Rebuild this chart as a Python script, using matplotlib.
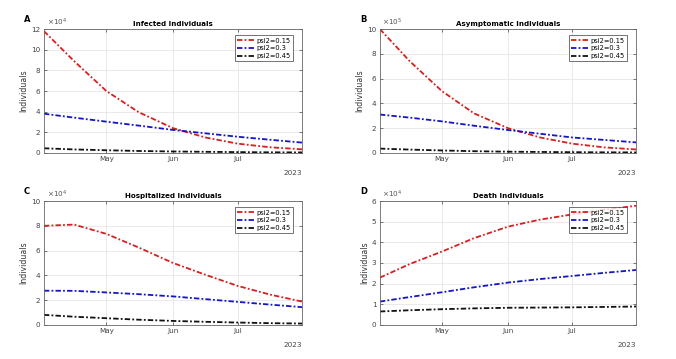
import datetime as dt
import matplotlib
matplotlib.use("Agg")
import matplotlib.pyplot as plt
import matplotlib.dates as mdates
from matplotlib.ticker import MultipleLocator

# sample dates (semi-monthly), 2023
dates = [dt.date(2023, 4, 2), dt.date(2023, 4, 16), dt.date(2023, 5, 1),
         dt.date(2023, 5, 16), dt.date(2023, 6, 1), dt.date(2023, 6, 16),
         dt.date(2023, 7, 1), dt.date(2023, 7, 16), dt.date(2023, 7, 31)]
labels = ["psi2=0.15", "psi2=0.3", "psi2=0.45"]

# Infected (x1e4)
inf_015 = [11.8, 8.9, 6.0, 3.95, 2.4, 1.5, 0.9, 0.55, 0.35]
inf_03 = [3.8, 3.42, 3.03, 2.65, 2.23, 1.9, 1.57, 1.28, 1.0]
inf_045 = [0.45, 0.34, 0.26, 0.19, 0.14, 0.11, 0.08, 0.06, 0.05]
# Asymptomatic (x1e5)
asy_015 = [10.0, 7.4, 5.0, 3.2, 2.0, 1.25, 0.75, 0.45, 0.28]
asy_03 = [3.1, 2.85, 2.55, 2.2, 1.85, 1.55, 1.25, 1.05, 0.85]
asy_045 = [0.35, 0.27, 0.2, 0.14, 0.1, 0.08, 0.06, 0.05, 0.04]
# Hospitalized (x1e4)
hos_015 = [8.0, 8.1, 7.35, 6.25, 5.0, 4.05, 3.15, 2.45, 1.88]
hos_03 = [2.76, 2.75, 2.62, 2.48, 2.3, 2.08, 1.86, 1.64, 1.43]
hos_045 = [0.81, 0.66, 0.54, 0.42, 0.32, 0.25, 0.19, 0.14, 0.11]
# Death (x1e4)
dea_015 = [2.29, 2.95, 3.55, 4.2, 4.76, 5.1, 5.35, 5.58, 5.77]
dea_03 = [1.13, 1.35, 1.58, 1.82, 2.05, 2.22, 2.37, 2.52, 2.66]
dea_045 = [0.65, 0.71, 0.76, 0.8, 0.83, 0.84, 0.85, 0.87, 0.89]

panels = [
    ("A", "Infected Individuals", 4, 12, 2, [inf_015, inf_03, inf_045]),
    ("B", "Asymptomatic Individuals", 5, 10, 2, [asy_015, asy_03, asy_045]),
    ("C", "Hospitalized Individuals", 4, 10, 2, [hos_015, hos_03, hos_045]),
    ("D", "Death Individuals", 4, 6, 1, [dea_015, dea_03, dea_045]),
]
colors = ["#d42020", "#1515c8", "#111111"]
fs = 5.2

fig = plt.figure(figsize=(6.76, 3.59), dpi=100)
positions = [
    [0.065, 0.574, 0.382, 0.345],
    [0.562, 0.574, 0.379, 0.345],
    [0.065, 0.095, 0.382, 0.345],
    [0.562, 0.095, 0.379, 0.345],
]

for pos, (letter, title, expo, ymax, ystep, series) in zip(positions, panels):
    ax = fig.add_axes(pos)
    for vals, c, lab in zip(series, colors, labels):
        ax.plot(dates, vals, color=c, lw=1.3,
                ls=(0, (3, 1.2, 1, 1.2)), label=lab)
    ax.set_xlim(dates[0], dates[-1])
    ax.set_ylim(0, ymax)
    ax.yaxis.set_major_locator(MultipleLocator(ystep))
    ax.xaxis.set_major_locator(mdates.MonthLocator(bymonth=[5, 6, 7]))
    ax.xaxis.set_major_formatter(mdates.DateFormatter("%b"))
    ax.tick_params(direction="in", labelsize=fs, labelcolor="#444444",
                   length=2.5, width=0.5, color="#444444", top=True, right=True,
                   pad=2.5)
    ax.grid(True, color="#e6e6e6", lw=0.6)
    for s in ax.spines.values():
        s.set_color("#666666")
        s.set_linewidth(0.6)
    ax.set_title(title, fontsize=5.1, fontweight="bold", pad=2.5)
    ax.set_ylabel("Individuals", fontsize=5.6, color="#333333", labelpad=2)
    ax.text(0.01, 1.005, r"$\times10^{%d}$" % expo, transform=ax.transAxes,
            ha="left", va="bottom", fontsize=fs, color="#555555")
    ax.text(1.0, -0.165, "2023", transform=ax.transAxes, ha="right", va="center",
            fontsize=fs, color="#444444")
    ax.text(-0.065, 1.04, letter, transform=ax.transAxes, ha="center", va="bottom",
            fontsize=6, fontweight="bold")
    leg = ax.legend(loc="upper right", fontsize=4.8, frameon=True, fancybox=False,
                    handlelength=2.6, handletextpad=0.3, borderpad=0.35,
                    labelspacing=0.25, borderaxespad=0,
                    bbox_to_anchor=(0.965, 0.95))
    leg.get_frame().set_edgecolor("#333333")
    leg.get_frame().set_linewidth(0.6)

fig.savefig("out.png", dpi=100)
